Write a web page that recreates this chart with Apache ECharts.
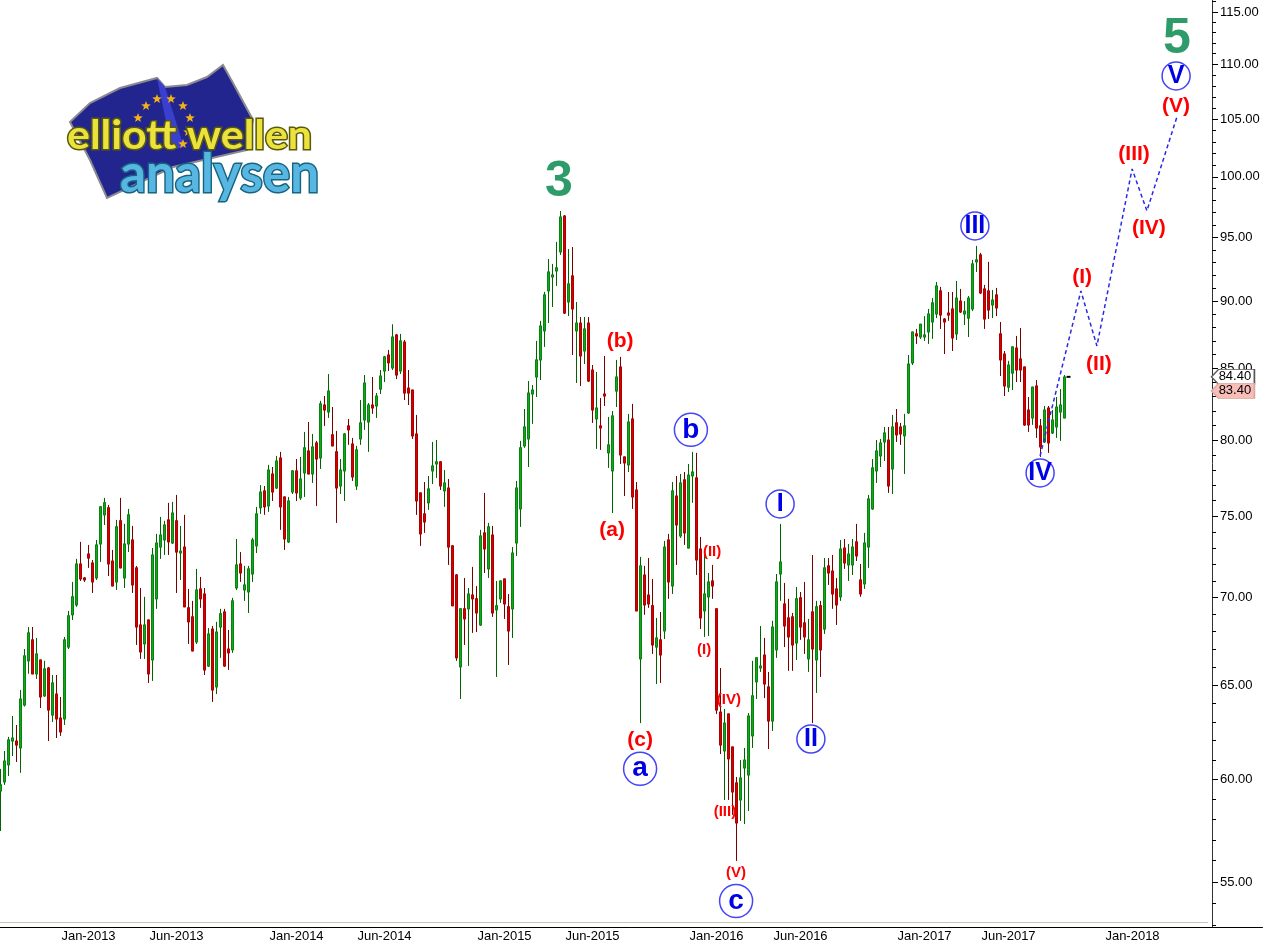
<!DOCTYPE html>
<html>
<head>
<meta charset="utf-8">
<title>Elliott Wellen Analysen</title>
<script src="https://cdn.jsdelivr.net/npm/echarts@6/dist/echarts.min.js"></script>
<style>
html, body { margin: 0; padding: 0; background: #fff; }
#chart { width: 1263px; height: 944px; }
</style>
</head>
<body>
<div id="chart"></div>
<script>
// weekly candles
var opens = [
59.41,59.87,60.74,61.98,61.98,61.62,63.90,66.34,67.53,65.61,
66.39,64.40,65.94,63.36,64.50,63.20,63.15,67.12,68.98,69.56,
72.02,71.17,72.63,72.08,71.17,73.25,75.08,75.53,72.20,70.93,
74.70,71.17,73.25,73.50,71.78,68.39,67.30,68.68,66.39,69.92,
73.06,73.50,74.76,73.31,74.70,72.69,73.06,69.39,68.86,67.41,
70.51,70.21,66.05,68.15,64.89,68.27,69.15,67.01,66.96,70.57,
72.02,70.45,70.33,71.41,73.13,75.53,76.62,75.65,77.73,76.81,
78.79,76.23,73.38,76.55,77.93,76.17,77.80,79.26,77.73,79.80,
78.79,82.41,81.92,80.35,79.20,76.94,77.93,80.96,79.73,76.94,
80.07,81.37,81.23,82.41,82.34,83.53,84.82,85.98,85.04,87.45,
84.82,86.93,83.60,83.46,80.41,76.49,75.14,75.85,77.93,78.39,
78.53,76.62,76.81,73.13,71.35,66.00,69.33,69.33,70.15,69.92,
68.39,73.94,71.72,73.81,69.27,69.92,71.11,69.45,69.33,73.31,
75.46,79.60,80.07,83.18,84.39,85.62,87.75,90.78,91.86,92.33,
93.83,96.73,89.93,91.94,87.75,88.34,86.27,88.34,84.89,81.44,
80.96,83.18,79.13,77.93,83.39,85.11,78.86,78.33,81.44,76.68,
66.45,71.35,70.15,69.51,67.12,67.53,68.04,73.50,70.69,76.29,
73.75,77.34,73.00,77.60,77.47,72.94,69.21,70.04,70.99,69.33,
63.52,61.46,63.42,61.67,59.82,58.96,60.58,60.22,62.25,65.17,
65.94,66.67,64.89,63.04,66.96,71.41,69.62,68.80,68.86,67.35,
69.98,68.51,66.45,69.15,66.39,69.51,68.15,71.90,71.59,70.51,
70.04,73.00,71.96,71.96,73.38,71.05,70.81,73.06,75.46,77.93,
78.93,79.87,80.00,78.06,81.17,80.89,80.28,81.86,85.40,87.53,
87.30,87.30,87.67,88.42,89.02,90.78,88.64,89.09,89.40,87.53,
90.00,89.02,88.71,89.40,93.04,93.59,90.93,90.78,89.70,90.47,
87.53,86.05,83.67,84.67,86.49,85.69,85.11,82.06,81.51,83.75,
80.96,79.87,82.20,80.48,80.89,81.92,81.51];
var closes = [
59.72,60.94,62.04,62.14,61.77,64.23,66.62,67.93,65.61,66.73,
64.34,65.89,63.63,65.11,63.15,62.46,67.53,68.92,70.04,72.02,
71.11,71.05,72.38,70.93,73.19,75.59,75.85,72.02,70.69,74.32,
71.78,73.25,75.08,70.75,68.27,66.84,68.39,65.61,72.57,73.31,
73.81,74.44,73.38,75.20,72.75,72.81,69.45,68.57,66.90,70.45,
69.92,65.83,67.87,64.72,67.98,69.04,66.05,66.79,69.80,71.96,
71.47,70.75,71.72,73.50,75.14,76.55,75.59,77.99,76.55,78.59,
75.59,73.56,75.97,77.93,76.49,77.40,79.47,77.73,79.53,78.72,
82.49,82.06,83.39,79.60,76.81,77.99,80.41,80.69,77.53,79.33,
81.17,83.96,82.41,82.20,83.04,84.46,85.84,85.41,87.30,84.53,
87.01,83.25,83.25,80.28,75.97,73.88,74.63,76.75,78.26,78.53,
76.94,77.14,73.06,69.51,66.51,69.33,68.74,70.21,69.92,69.09,
73.75,72.94,74.32,69.09,69.51,70.99,69.62,68.04,72.69,76.81,
79.47,80.89,83.25,83.46,85.62,88.12,90.47,92.25,92.02,92.57,
96.65,89.09,91.32,89.40,88.34,85.91,87.90,84.10,82.06,82.20,
80.82,83.04,79.67,81.65,84.39,78.99,78.46,81.23,76.23,69.21,
71.90,69.56,69.62,67.24,67.64,66.67,73.06,70.93,76.62,74.44,
77.14,73.94,77.66,77.86,72.26,68.80,70.21,70.93,70.69,63.63,
61.77,62.93,61.05,59.36,57.82,60.07,60.99,63.31,64.40,66.51,
66.05,65.05,63.04,68.27,70.93,72.14,68.33,67.70,67.24,69.92,
68.27,67.70,67.53,67.01,69.45,66.96,71.78,71.47,70.21,69.56,
72.94,72.08,72.63,73.06,72.51,70.21,73.31,76.10,78.13,79.26,
79.80,80.48,76.94,80.89,80.35,80.41,80.96,85.32,87.67,87.38,
88.25,87.45,89.02,89.86,91.16,88.94,88.42,88.94,87.23,90.23,
89.17,89.24,90.23,92.88,93.20,90.62,88.64,89.32,90.08,89.48,
85.62,83.75,85.25,86.57,84.89,84.89,81.03,81.03,83.67,80.82,
79.53,82.06,79.80,81.37,82.27,82.41,84.39];
var lows = [
57.43,59.72,60.17,61.20,60.89,60.33,63.82,65.62,65.61,65.33,
63.74,64.34,61.98,62.99,62.14,62.25,62.83,67.01,68.68,69.45,
70.99,70.93,71.78,70.27,71.05,72.14,74.44,71.29,70.69,70.45,
71.78,70.57,72.75,70.27,67.24,66.45,66.45,65.11,65.22,69.33,
72.33,72.57,72.57,73.25,70.27,71.05,69.45,67.30,66.90,67.30,
69.39,65.55,66.00,64.07,64.50,66.51,66.00,65.83,66.79,70.45,
70.93,69.80,69.09,70.93,72.69,75.14,75.08,75.27,75.97,76.75,
74.13,72.88,73.31,76.42,75.97,76.04,76.23,77.73,77.14,75.65,
78.06,80.96,81.51,79.60,74.57,76.42,75.97,79.67,77.27,76.68,
79.67,80.69,79.20,81.79,81.51,83.18,84.03,84.82,84.89,84.24,
84.60,82.76,82.41,80.07,75.08,73.13,73.94,75.40,77.07,77.47,
76.68,75.59,71.96,69.51,66.34,64.23,67.24,66.05,67.93,67.98,
68.33,71.47,71.17,68.86,65.44,69.68,68.74,66.11,67.64,72.51,
74.32,79.47,78.19,81.10,82.97,84.17,86.57,88.34,89.55,91.16,
93.59,89.02,88.86,85.98,83.96,83.75,85.32,84.03,81.17,79.40,
79.33,82.34,78.13,75.20,82.27,78.39,76.29,77.86,75.46,69.21,
62.93,68.98,69.39,66.73,65.05,65.11,67.58,69.92,70.21,71.96,
73.63,73.19,73.00,75.85,71.35,68.15,67.70,67.75,69.92,63.42,
61.30,58.96,58.96,58.22,55.99,57.92,57.77,58.41,61.62,64.23,
65.72,64.28,61.56,62.51,66.51,69.80,67.12,65.78,65.78,66.39,
67.53,66.73,65.72,62.93,64.56,65.44,67.87,70.75,69.33,68.39,
69.80,71.72,70.99,71.35,72.20,70.04,70.51,71.78,75.40,77.14,
78.19,78.59,76.49,76.42,79.87,79.67,77.73,81.79,85.25,86.79,
87.16,87.01,86.79,87.16,88.71,87.90,86.05,88.50,86.27,87.08,
89.09,88.19,87.30,89.24,92.25,90.54,87.90,88.64,88.71,88.86,
84.46,83.04,83.32,83.46,84.03,84.03,80.96,80.55,81.03,80.14,
78.86,79.80,79.13,80.41,80.14,79.94,81.51];
var highs = [
60.53,61.46,62.20,63.31,62.83,64.72,67.01,68.27,68.27,67.64,
66.39,66.34,66.00,65.55,65.55,64.34,67.70,69.21,70.93,72.33,
73.38,71.23,73.19,72.26,73.50,75.65,76.17,75.72,72.88,74.76,
76.17,74.51,75.46,74.38,71.90,70.57,70.04,68.68,73.00,73.88,
74.95,74.70,75.85,75.91,76.36,74.38,75.08,70.51,69.80,71.72,
71.23,70.57,68.21,68.33,68.57,69.33,69.33,68.10,69.98,73.56,
72.75,71.90,71.90,73.63,75.59,77.00,76.94,78.33,78.19,78.93,
79.20,76.23,76.23,77.99,78.72,78.86,80.55,81.23,80.41,79.94,
82.70,83.04,84.60,82.27,80.62,78.72,80.48,81.44,80.14,79.60,
82.76,84.53,82.55,84.39,83.25,84.89,85.91,86.35,88.25,87.53,
87.53,87.08,84.89,83.46,81.72,76.49,77.20,77.60,79.87,80.00,
78.59,77.99,77.40,73.19,71.41,69.33,71.17,70.57,71.84,70.69,
74.13,76.49,74.57,74.38,70.99,70.99,71.11,70.21,73.06,77.27,
79.94,82.13,84.10,83.82,87.01,88.50,90.70,93.27,92.88,94.63,
97.14,96.81,94.06,94.22,89.93,88.79,88.79,88.79,85.25,84.75,
82.90,85.91,81.58,81.99,85.62,85.84,78.86,81.79,82.49,77.20,
72.45,71.90,72.38,71.11,68.80,69.15,73.44,73.88,77.20,77.60,
77.73,77.86,78.39,79.20,79.13,73.69,72.57,71.47,71.96,69.33,
65.94,63.69,63.42,61.67,60.12,60.99,61.62,63.47,66.34,66.51,
68.33,67.64,65.72,68.63,71.41,74.51,70.87,69.92,69.09,70.63,
70.33,70.93,68.74,72.57,69.80,69.80,72.38,72.38,72.57,71.17,
73.50,73.56,73.25,73.56,74.51,72.02,73.94,76.36,78.72,80.00,
80.07,80.89,80.89,81.72,82.13,81.17,81.79,85.98,87.67,87.90,
88.25,88.86,89.40,90.23,91.47,91.09,88.71,90.70,90.70,91.55,
90.93,90.00,90.39,93.20,94.31,93.75,91.24,93.04,90.85,91.01,
88.42,86.27,85.55,86.57,87.38,87.97,85.11,82.97,83.67,84.17,
81.44,82.34,82.34,82.06,82.97,83.53,84.53];

// axis
var firstWeek = Date.UTC(2012, 7, 3);
var weekCount = 316;
var tickWeeks = ['2013-01-04','2013-06-07','2014-01-03','2014-06-06','2015-01-02','2015-06-05','2016-01-08','2016-06-03','2017-01-06','2017-06-02','2018-01-05'];
var monthNames = ['Jan','Feb','Mar','Apr','May','Jun','Jul','Aug','Sep','Oct','Nov','Dec'];
var priceTicks = [55,60,65,70,75,80,85,90,95,100,105,110,115];
var priceMin = 52.94, priceMax = 116.17;

// wave counts, x is the week number
var bigGreenNames = ['3','5'];
var bigGreenX = [139.6,294.1];
var bigGreenY = [99.53,112.40];
var romanCircleNames = ['I','II','III','IV','V'];
var romanCircleX = [194.9,202.6,243.6,259.9,293.9];
var romanCircleY = [75.78,62.09,95.92,77.80,108.93];
var letterCircleNames = ['a','b','c'];
var letterCircleX = [159.9,172.6,183.9];
var letterCircleY = [60.54,80.69,54.12];
var redNames = ['(a)','(b)','(c)','(I)','(II)','(III)','(IV)','(V)'];
var redX = [152.9,154.9,159.9,270.4,274.6,283.4,287.1,293.9];
var redY = [74.13,87.01,62.04,91.86,85.32,101.95,95.76,106.19];
var smallRedNames = ['(I)','(II)','(III)','(IV)','(V)'];
var smallRedX = [175.9,177.9,181.1,182.1,183.9];
var smallRedY = [66.96,72.75,58.36,64.17,55.42];

// projected path
var pathX = [259.9,270.1,274.1,282.9,286.6,294.1];
var pathY = [78.93,90.78,86.64,100.67,97.15,105.20];

var lastPriceX = 267, lastPrice = 84.40;
var tagPrices = [84.40,83.40];
var tagColors = ['#ffffff','#f7bdb6'];
var tagBorders = ['#555555','#d8a8a0'];
var tagX = 308.1;
var footLinePrice = 53.17;

var weeks = [], minorTicks = [], candles = [], bodies = [];
var i;
for (i = 0; i < weekCount; i++) {
    weeks.push(new Date(firstWeek + i * 7 * 864e5).toISOString().slice(0, 10));
}
for (i = 53; i <= 116; i++) {
    if (i % 5) minorTicks.push(i);
}
for (i = 0; i < opens.length; i++) {
    candles.push([opens[i], closes[i], lows[i], highs[i]]);
    // second layer so the body can be brighter than the wick
    bodies.push([opens[i], closes[i], Math.min(opens[i], closes[i]), Math.max(opens[i], closes[i])]);
}

function zip(names, xs, ys) {
    return names.map(function (n, k) { return {name: n, value: [xs[k], ys[k]]}; });
}

function isTickWeek(index, value) {
    return tickWeeks.indexOf(value) >= 0;
}

function textSeries(names, xs, ys, color, size) {
    return {
        type: 'scatter', xAxisIndex: 1, symbolSize: 1, silent: true, z: 6,
        itemStyle: {color: 'transparent', opacity: 1},
        label: {show: true, position: 'inside', formatter: '{b}', color: color, fontSize: size,
            fontWeight: 'bold', fontFamily: 'Liberation Sans'},
        data: zip(names, xs, ys)
    };
}

function circleSeries(names, xs, ys, radius, size) {
    return {
        type: 'scatter', xAxisIndex: 1, symbolSize: radius * 2, silent: true, z: 5,
        itemStyle: {color: '#ffffff', borderColor: '#4545f5', borderWidth: 1.5, opacity: 1},
        label: {show: true, position: 'inside', formatter: '{b}', color: '#0000e6', fontSize: size,
            fontWeight: 'bold', fontFamily: 'Liberation Sans'},
        data: zip(names, xs, ys)
    };
}

function star(cx, cy, r) {
    var pts = [];
    for (var k = 0; k < 10; k++) {
        var a = -Math.PI / 2 + k * Math.PI / 5, rr = k % 2 ? r * 0.42 : r;
        pts.push([cx + rr * Math.cos(a), cy + rr * Math.sin(a)]);
    }
    return {type: 'polygon', z: 21, shape: {points: pts}, style: {fill: '#f2b216'}};
}

var logo = [
    {type: 'polygon', z: 20, shape: {points: [[70,122],[90,103],[120,88],[157,78],[165,87],[187,85],[207,77],[223,65],[233,83],[253,120],[247,150],[173,167],[107,198],[90,160]]},
        style: {fill: '#23258f', stroke: '#8a8a90', lineWidth: 2}},
    {type: 'polygon', z: 20, shape: {points: [[157,78],[165,87],[184,147],[172,150]]}, style: {fill: '#3b3fcf'}},
    star(146,106,5), star(157,99,5), star(171,99,5), star(183,106,5), star(190,118,5), star(138,118,5), star(188,132,5), star(183,144,5),
    {type: 'text', z: 22, x: 67, y: 115, scaleX: 1.045, style: {text: 'elliott wellen', fontFamily: 'Lato', fontWeight: 'bold', fontSize: 41,
        fill: '#ece23e', stroke: '#59590c', lineWidth: 3, shadowColor: 'rgba(0,0,0,0.45)', shadowBlur: 3, shadowOffsetX: 2, shadowOffsetY: 2}},
    {type: 'text', z: 23, x: 120, y: 148, scaleX: 0.95, style: {text: 'analysen', fontFamily: 'Lato', fontWeight: 'bold', fontSize: 54,
        fill: '#58b7e2', stroke: '#17647f', lineWidth: 3, shadowColor: 'rgba(0,0,0,0.45)', shadowBlur: 3, shadowOffsetX: 2, shadowOffsetY: 2}}
];

var chart = echarts.init(document.getElementById('chart'));
chart.setOption({
    animation: false,
    backgroundColor: '#ffffff',
    grid: {left: -1.5, top: 0, width: 1264, height: 927, containLabel: false, outerBoundsMode: 'none'},
    xAxis: [{
        type: 'category', data: weeks, boundaryGap: true,
        axisLine: {onZero: false, lineStyle: {color: '#000000', width: 1}},
        axisTick: {inside: true, length: 5, alignWithLabel: true, interval: isTickWeek, lineStyle: {color: '#000000'}},
        axisLabel: {interval: isTickWeek, hideOverlap: false, color: '#000000', fontSize: 13, margin: 3, fontFamily: 'Liberation Sans',
            formatter: function (v) { return monthNames[+v.slice(5, 7) - 1] + '-' + v.slice(0, 4); }},
        splitLine: {show: false}
    }, {
        type: 'value', min: -0.5, max: 315.5, show: false, splitLine: {show: false}
    }],
    yAxis: [{
        type: 'log', logBase: 10, min: priceMin, max: priceMax, position: 'right', offset: -50.5,
        axisLine: {show: true, onZero: false, lineStyle: {color: '#333333'}},
        axisTick: {show: true, length: 6, customValues: priceTicks, lineStyle: {color: '#000000'}},
        axisLabel: {show: true, customValues: priceTicks, color: '#000000', fontSize: 13, margin: 8, padding: [2, 0, 0, 0], fontFamily: 'Liberation Sans',
            formatter: function (v) { return (+v).toFixed(2); }},
        minorTick: {show: false}, splitLine: {show: false}
    }, {
        type: 'log', logBase: 10, min: priceMin, max: priceMax, position: 'right', offset: -50.5,
        axisLine: {show: false, onZero: false},
        axisTick: {show: true, length: 4, customValues: minorTicks, lineStyle: {color: '#000000'}},
        axisLabel: {show: false}, splitLine: {show: false}
    }],
    series: [{
        type: 'candlestick', data: candles, barWidth: 2, silent: true, z: 3,
        itemStyle: {color: '#0b9a14', color0: '#cc0000', borderColor: '#006400', borderColor0: '#7a0000', borderWidth: 1},
        markLine: {
            silent: true, symbol: 'none', animation: false, label: {show: false},
            lineStyle: {color: '#8f8f62', type: 'dotted', width: 1},
            data: [[{coord: [0, footLinePrice]}, {coord: [302, footLinePrice]}]]
        }
    }, {
        type: 'candlestick', data: bodies, barWidth: 2, silent: true, z: 3,
        itemStyle: {color: '#12a81c', color0: '#d40000', borderColor: '#0a8212', borderColor0: '#ad0000', borderWidth: 1}
    }, {
        type: 'line', xAxisIndex: 1, data: pathX.map(function (x, k) { return [x, pathY[k]]; }),
        symbol: 'none', silent: true, z: 4, lineStyle: {color: '#2a2ae6', width: 1.5, type: [4, 3]}
    }, {
        type: 'scatter', xAxisIndex: 1, data: [[lastPriceX, lastPrice]], symbol: 'rect', symbolSize: [4, 2], silent: true, z: 4,
        itemStyle: {color: '#000000', opacity: 1}
    }, {
        type: 'scatter', xAxisIndex: 1, silent: true, z: 7,
        symbol: 'path://M0 7 L7 0 H42 V14 H7 Z', symbolSize: [43, 15], symbolKeepAspect: false,
        label: {show: true, position: 'inside', color: '#000000', fontSize: 13, fontFamily: 'Liberation Sans', offset: [2, 0],
            formatter: function (p) { return p.value[1].toFixed(2); }},
        data: tagPrices.map(function (p, k) {
            return {value: [tagX, p], itemStyle: {color: tagColors[k], borderColor: tagBorders[k], borderWidth: 1, opacity: 1}};
        })
    },
    textSeries(bigGreenNames, bigGreenX, bigGreenY, '#2e9c6a', 50),
    circleSeries(romanCircleNames, romanCircleX, romanCircleY, 14, 25),
    circleSeries(letterCircleNames, letterCircleX, letterCircleY, 16.5, 28),
    textSeries(redNames, redX, redY, '#ff0000', 21),
    textSeries(smallRedNames, smallRedX, smallRedY, '#ff0000', 15)
    ],
    graphic: logo
});
</script>
</body>
</html>
